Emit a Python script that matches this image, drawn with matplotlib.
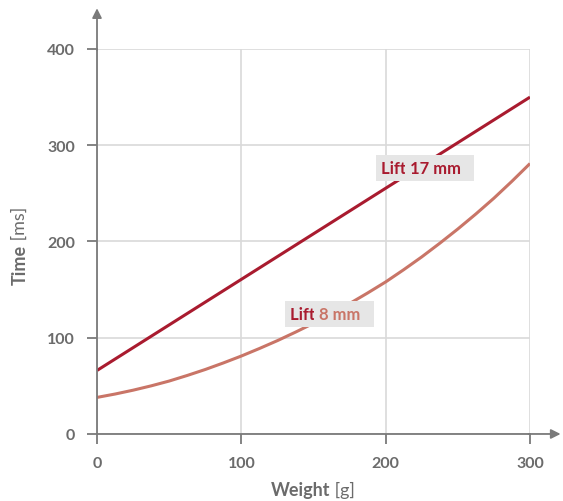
import matplotlib
matplotlib.use('Agg')
import matplotlib.pyplot as plt

plt.rcParams['font.family'] = ['Lato', 'DejaVu Sans']

# data
weight_17 = [0, 300]
time_17 = [66, 350]
weight_8 = [0, 12.5, 25, 37.5, 50, 62.5, 75, 87.5, 100, 112.5, 125, 137.5, 150,
            162.5, 175, 187.5, 200, 212.5, 225, 237.5, 250, 262.5, 275, 287.5, 300]
time_8 = [38, 41.5, 45.5, 50, 55, 60.8, 67, 73.8, 81, 88.8, 97, 105.8, 115,
          125, 135.5, 146.5, 158, 170.7, 184, 198.2, 213, 228.6, 245, 262.6, 281]
xticks = [0, 100, 200, 300]
yticks = [0, 100, 200, 300, 400]

dark_red = '#a91b2f'
light_red = '#c97567'
axis_col = '#7a7a7a'
text_col = '#6b6b6b'
grid_col = '#d9d9d9'

fig = plt.figure(figsize=(5.63, 5.02), dpi=100)
ax = fig.add_axes([0.1723, 0.1335, 0.7691, 0.7669])

ax.plot(weight_8, time_8, color=light_red, lw=2.2, solid_capstyle='butt', solid_joinstyle='round')
ax.plot(weight_17, time_17, color=dark_red, lw=2.2, solid_capstyle='butt')

ax.set_xlim(0, 300)
ax.set_ylim(0, 400)
ax.set_xticks(xticks)
ax.set_yticks(yticks)
ax.grid(True, color=grid_col, lw=1.2)
ax.set_axisbelow(True)
for s in ['top', 'right']:
    ax.spines[s].set_visible(False)
for s in ['left', 'bottom']:
    ax.spines[s].set_color(axis_col)
    ax.spines[s].set_linewidth(1.3)
ax.tick_params(colors=axis_col, width=1.3, length=7, labelsize=11.5, labelcolor=text_col, pad=9)
for lab in ax.get_xticklabels() + ax.get_yticklabels():
    lab.set_fontweight('bold')

# arrow heads on the axes
ax.annotate('', xy=(1.077, 0), xytext=(0.99, 0), xycoords='axes fraction',
            arrowprops=dict(arrowstyle='-|>', color=axis_col, lw=1.3, mutation_scale=14))
ax.annotate('', xy=(0, 1.113), xytext=(0, 0.99), xycoords='axes fraction',
            arrowprops=dict(arrowstyle='-|>', color=axis_col, lw=1.3, mutation_scale=14))

# line labels, "Lift" in dark red then the size
box = dict(boxstyle='square,pad=0.3', fc='#e6e6e6', ec='none')
a1 = ax.text(197, 276, 'Lift ', color=dark_red, fontsize=12, fontweight='bold',
             va='center', ha='left', bbox=box)
ax.annotate('17 mm  ', xy=(1, 0), xycoords=a1, va='bottom', ha='left',
            color=dark_red, fontsize=12, fontweight='bold', bbox=box)
a2 = ax.text(134, 125, 'Lift ', color=dark_red, fontsize=12, fontweight='bold',
             va='center', ha='left', bbox=box)
ax.annotate('8 mm  ', xy=(1, 0), xycoords=a2, va='bottom', ha='left',
            color=light_red, fontsize=12, fontweight='bold', bbox=box)

# axis titles with bold name and plain unit
fig.canvas.draw()
r = fig.canvas.get_renderer()
t1 = fig.text(0, 0, 'Weight', fontsize=13, fontweight='bold', color=text_col)
t2 = fig.text(0, 0, ' [g]', fontsize=13, fontweight='normal', color=text_col)
w1 = t1.get_window_extent(r).width
w2 = t2.get_window_extent(r).width
x0 = (313 - (w1 + w2) / 2) / 563
t1.set_position((x0, 1 - 496 / 502))
t2.set_position((x0 + w1 / 563, 1 - 496 / 502))

t3 = fig.text(0, 0, 'Time', fontsize=13, fontweight='bold', color=text_col, rotation=90, ha='left')
t4 = fig.text(0, 0, ' [ms]', fontsize=13, fontweight='normal', color=text_col, rotation=90, ha='left')
h3 = t3.get_window_extent(r).height
h4 = t4.get_window_extent(r).height
y0 = (502 - 243 - (h3 + h4) / 2) / 502
t3.set_position((12 / 563, y0))
t4.set_position((12 / 563, y0 + h3 / 502))

fig.savefig('out.png', dpi=100)
